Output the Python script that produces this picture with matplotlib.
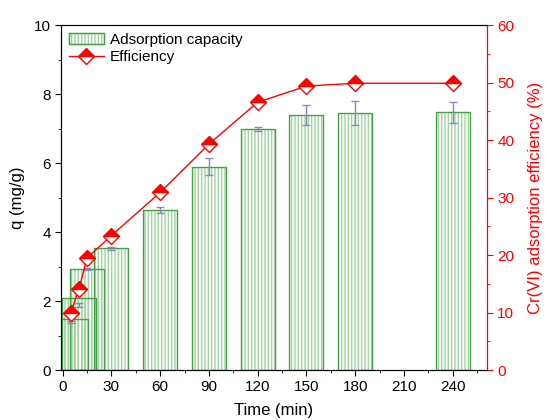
import matplotlib.pyplot as plt
from matplotlib.ticker import MultipleLocator

plt.rcParams['font.family'] = ['Liberation Sans', 'DejaVu Sans']

time = [5, 10, 15, 30, 60, 90, 120, 150, 180, 240]
q = [1.49, 2.10, 2.94, 3.53, 4.64, 5.89, 7.00, 7.39, 7.46, 7.47]
err_center = [1.40, 1.88, 2.94, 3.53, 4.64, 5.90, 7.00, 7.40, 7.45, 7.46]
q_err = [0.03, 0.05, 0.03, 0.04, 0.10, 0.25, 0.06, 0.30, 0.35, 0.31]
efficiency = [10.0, 14.1, 19.5, 23.4, 30.9, 39.3, 46.6, 49.4, 49.9, 49.9]

fig = plt.figure(figsize=(5.5, 4.2), dpi=100)
ax = fig.add_axes([0.111, 0.119, 0.774, 0.821])

green = '#44a044'
light_green = '#a0d4a0'

# hatched bars: light hatch, darker outline
ax.bar(time, q, width=21, facecolor='none', edgecolor=light_green,
       hatch='|||||', linewidth=0)
ax.bar(time, q, width=21, facecolor='none', edgecolor=green, linewidth=1.0)
ax.errorbar(time, err_center, yerr=q_err, fmt='none', ecolor='#8888bb',
            elinewidth=1, capsize=3, capthick=1)

ax.set_xlim(-1, 261)
ax.set_ylim(0, 10)
ax.xaxis.set_major_locator(MultipleLocator(30))
ax.xaxis.set_minor_locator(MultipleLocator(15))
ax.yaxis.set_major_locator(MultipleLocator(2))
ax.yaxis.set_minor_locator(MultipleLocator(1))
ax.tick_params(direction='out', labelsize=11, length=4, top=False, right=False)
ax.tick_params(which='minor', direction='out', length=2.5)
ax.set_xlabel('Time (min)', fontsize=12, labelpad=6)
ax.set_ylabel('q (mg/g)', fontsize=12, labelpad=6)
for s in ['left', 'top', 'bottom']:
    ax.spines[s].set_color('#333333')

ax2 = ax.twinx()
ax2.plot(time, efficiency, color='red', linewidth=1, marker='D', markersize=8,
         fillstyle='top', markerfacecolor='red', markerfacecoloralt='white',
         markeredgecolor='red', markeredgewidth=1)
ax2.set_ylim(0, 60)
ax2.yaxis.set_major_locator(MultipleLocator(10))
ax2.yaxis.set_minor_locator(MultipleLocator(5))
ax2.tick_params(direction='out', labelsize=11, length=4, colors='red')
ax2.tick_params(which='minor', direction='out', length=2.5, colors='red')
ax2.spines['right'].set_color('red')
ax2.set_ylabel('Cr(VI) adsorption efficiency (%)', fontsize=12, color='red',
               labelpad=10)

# legend handles
h1 = plt.Rectangle((0, 0), 1, 1, facecolor='none', edgecolor=light_green, hatch='|||||')
h1b = plt.Rectangle((0, 0), 1, 1, facecolor='none', edgecolor=green)
h2, = ax2.plot([], [], color='red', linewidth=1, marker='D', markersize=8,
               fillstyle='top', markerfacecolor='red', markerfacecoloralt='white',
               markeredgecolor='red')
ax2.legend([(h1, h1b), h2], ['Adsorption capacity', 'Efficiency'],
           loc='upper left', frameon=False, fontsize=11,
           borderaxespad=0.1, handlelength=2.3, handletextpad=0.4,
           labelspacing=0.2)

fig.savefig('out.png', dpi=100)
